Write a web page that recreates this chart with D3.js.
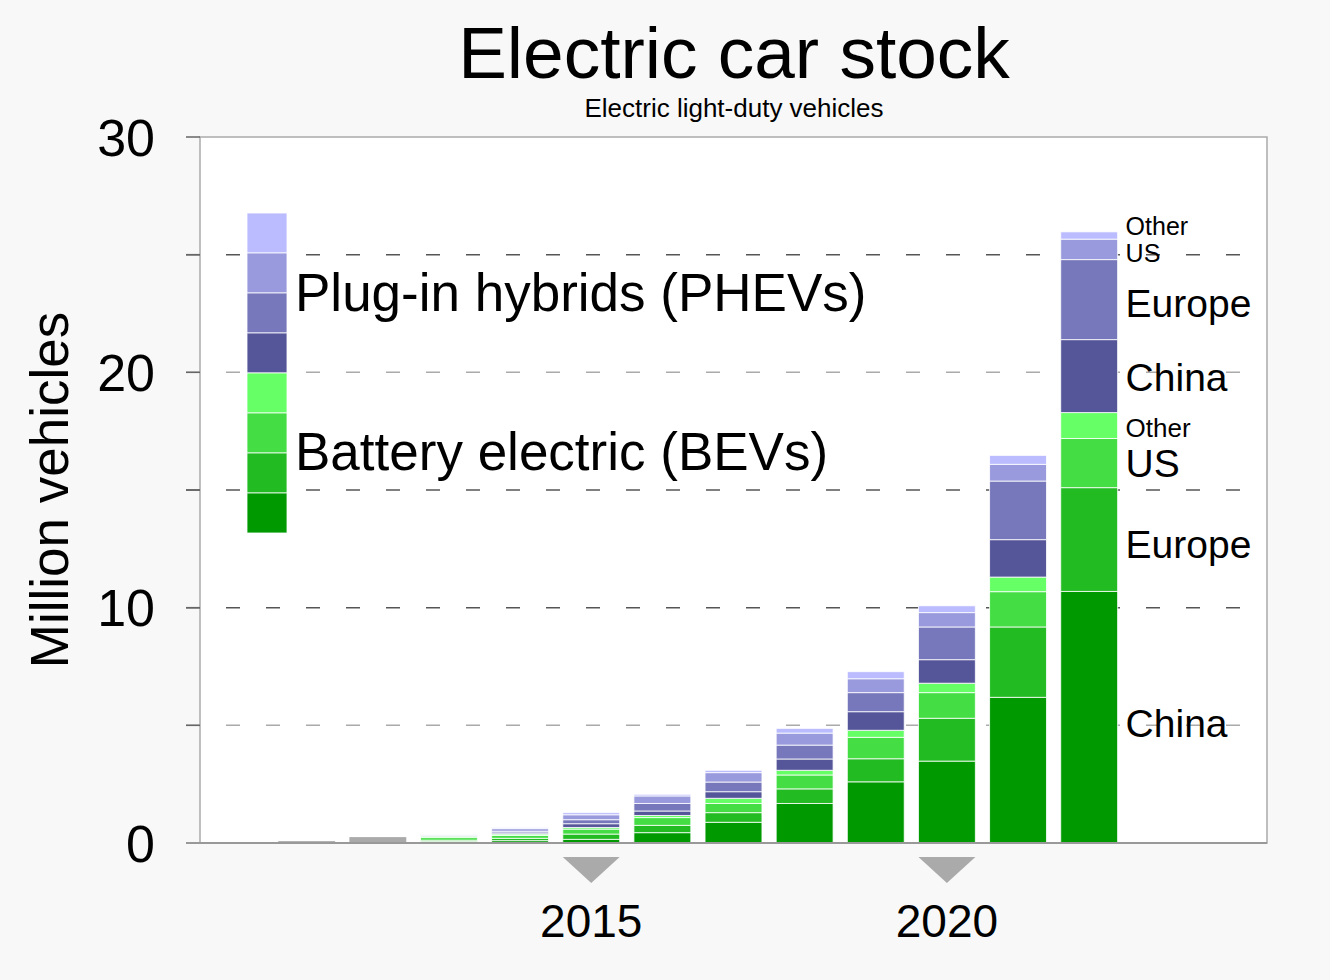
<!DOCTYPE html>
<html>
<head>
<meta charset="utf-8">
<script src="https://cdn.jsdelivr.net/npm/d3@7"></script>
<style>
  html, body { margin: 0; padding: 0; background: #f8f8f8; }
  svg { display: block; }
  text { font-family: "Liberation Sans", Arial, Helvetica, sans-serif; fill: #000; }
</style>
</head>
<body>
<svg id="chart" width="1330" height="980"></svg>
<script>
// ---------------- DATA ----------------
const grayYears = [2011, 2012];
const grayTotals = [0.08, 0.25];

const years = [2013, 2014, 2015, 2016, 2017, 2018, 2019, 2020, 2021, 2022];
const bevChina   = [0.06, 0.10, 0.155, 0.44, 0.88, 1.68, 2.60, 3.48, 6.19, 10.69];
const bevEurope  = [0.06, 0.10, 0.225, 0.31, 0.41, 0.62, 0.98, 1.82, 2.99, 4.41];
const bevUS      = [0.11, 0.12, 0.21, 0.33, 0.39, 0.59, 0.91, 1.09, 1.50, 2.09];
const bevOther   = [0.06, 0.06, 0.07, 0.09, 0.22, 0.20, 0.30, 0.40, 0.62, 1.10];
const phevChina  = [0.01, 0.05, 0.16, 0.19, 0.28, 0.48, 0.79, 1.00, 1.59, 3.10];
const phevEurope = [0.02, 0.07, 0.17, 0.32, 0.41, 0.59, 0.81, 1.39, 2.49, 3.40];
const phevUS     = [0.03, 0.11, 0.21, 0.32, 0.40, 0.51, 0.59, 0.61, 0.71, 0.87];
const phevOther  = [0.01, 0.04, 0.09, 0.07, 0.10, 0.20, 0.30, 0.29, 0.38, 0.31];

const seriesKeys = ["bevChina", "bevEurope", "bevUS", "bevOther",
                    "phevChina", "phevEurope", "phevUS", "phevOther"];
const seriesValues = [bevChina, bevEurope, bevUS, bevOther,
                      phevChina, phevEurope, phevUS, phevOther];
const seriesLabels = ["China", "Europe", "US", "Other", "China", "Europe", "US", "Other"];
const seriesColors = ["#009900", "#22bb22", "#44dd44", "#66ff66",
                      "#555599", "#7777bb", "#9999dd", "#bbbbff"];

const yTicks = [0, 10, 20, 30];
const gridValues = [5, 10, 15, 20, 25];
const xTickYears = [2015, 2020];
const axisYears = d3.range(2010, 2025);

const titleText = "Electric car stock";
const subtitleText = "Electric light-duty vehicles";
const yLabel = "Million vehicles";
const legendTexts = ["Plug-in hybrids (PHEVs)", "Battery electric (BEVs)"];

// ---------------- LAYOUT ----------------
const svg = d3.select("#chart");
const plot = { left: 200, right: 1267, top: 137, bottom: 843 };

const x = d3.scaleBand().domain(axisYears).range([plot.left, plot.right])
  .paddingInner(0.2).paddingOuter(0.1);
const y = d3.scaleLinear().domain([0, 30]).range([plot.bottom, plot.top]);

// background
svg.append("rect").attr("width", 1330).attr("height", 980).attr("fill", "#f8f8f8");

// plot area
svg.append("rect")
  .attr("x", plot.left).attr("y", plot.top)
  .attr("width", plot.right - plot.left).attr("height", plot.bottom - plot.top)
  .attr("fill", "#ffffff").attr("stroke", "#aaaaaa").attr("stroke-width", 1.5);

// grid lines (dashed)
const lightGrid = new Set([5, 20]);
svg.append("g").selectAll("line").data(gridValues).join("line")
  .attr("x1", 186).attr("x2", 1241)
  .attr("y1", d => y(d)).attr("y2", d => y(d))
  .attr("stroke", d => lightGrid.has(d) ? "#aaaaaa" : "#555555")
  .attr("stroke-width", 1.5)
  .attr("stroke-dasharray", "14,26");

// y axis ticks
svg.append("g").selectAll("line").data(d3.range(0, 31, 5)).join("line")
  .attr("x1", 186).attr("x2", plot.left)
  .attr("y1", d => y(d)).attr("y2", d => y(d))
  .attr("stroke", "#666666").attr("stroke-width", 1.5);

// stacked data
const rows = years.map((yr, i) => {
  const r = { year: yr };
  seriesKeys.forEach((k, j) => r[k] = seriesValues[j][i]);
  return r;
});
const stacked = d3.stack().keys(seriesKeys)(rows);

// gray bars (totals only)
svg.append("g").selectAll("rect").data(grayYears.map((yr, i) => ({ year: yr, v: grayTotals[i] })))
  .join("rect")
  .attr("x", d => x(d.year)).attr("width", x.bandwidth())
  .attr("y", d => y(d.v)).attr("height", d => y(0) - y(d.v))
  .attr("fill", "#aaaaaa");

// stacked bars
const gBars = svg.append("g");
stacked.forEach((layer, j) => {
  gBars.append("g").selectAll("rect").data(layer).join("rect")
    .attr("x", d => x(d.data.year)).attr("width", x.bandwidth())
    .attr("y", d => y(d[1])).attr("height", d => y(d[0]) - y(d[1]))
    .attr("fill", seriesColors[j])
    .attr("stroke", "#ffffff").attr("stroke-opacity", 0.8).attr("stroke-width", 1);
});

// bottom axis line
svg.append("line").attr("x1", 186).attr("x2", plot.right)
  .attr("y1", y(0)).attr("y2", y(0)).attr("stroke", "#999999").attr("stroke-width", 2);

// y tick labels
svg.append("g").selectAll("text").data(yTicks).join("text")
  .attr("x", 155).attr("y", d => y(d)).attr("dy", "0.36em")
  .attr("text-anchor", "end").attr("font-size", 52).text(d => d);

// y label
svg.append("text").attr("transform", "translate(68,490) rotate(-90)")
  .attr("text-anchor", "middle").attr("font-size", 53).text(yLabel);

// x tick markers + labels
const gx = svg.append("g");
xTickYears.forEach(yr => {
  const cx = x(yr) + x.bandwidth() / 2;
  const hw = x.bandwidth() / 2;
  gx.append("path").attr("d", `M${cx - hw},857 L${cx + hw},857 L${cx},883 Z`).attr("fill", "#aaaaaa");
  gx.append("text").attr("x", cx).attr("y", 937).attr("text-anchor", "middle")
    .attr("font-size", 46).text(yr);
});

// title
svg.append("text").attr("x", 734).attr("y", 78).attr("text-anchor", "middle")
  .attr("font-size", 73).text(titleText);
svg.append("text").attr("x", 734).attr("y", 117).attr("text-anchor", "middle")
  .attr("font-size", 26).text(subtitleText);

// legend swatches (top = phevOther ... bottom = bevChina)
const legendOrder = d3.range(seriesKeys.length).reverse();
svg.append("g").selectAll("rect").data(legendOrder).join("rect")
  .attr("x", 247).attr("width", 40)
  .attr("y", (d, i) => 213 + i * 40).attr("height", 40)
  .attr("fill", d => seriesColors[d])
  .attr("stroke", "#ffffff").attr("stroke-opacity", 0.8).attr("stroke-width", 1);
svg.append("text").attr("x", 295).attr("y", 311).attr("font-size", 53).text(legendTexts[0]);
svg.append("text").attr("x", 295).attr("y", 470).attr("font-size", 53).text(legendTexts[1]);

// right-side labels for last bar
const lastIdx = years.length - 1;
const lastYear = years[lastIdx];
const labelX = x(lastYear) + x.bandwidth() + 8;
const labelSizes = [39, 39, 39, 26, 39, 39, 25, 25];
const labelShift = [6, 4, 0, 2, 1, 3, 4, -9];
stacked.forEach((layer, j) => {
  const d = layer[lastIdx];
  svg.append("text").attr("x", labelX)
    .attr("y", (y(d[0]) + y(d[1])) / 2 + labelShift[j])
    .attr("dy", "0.36em")
    .attr("font-size", labelSizes[j]).text(seriesLabels[j]);
});
</script>
</body>
</html>
